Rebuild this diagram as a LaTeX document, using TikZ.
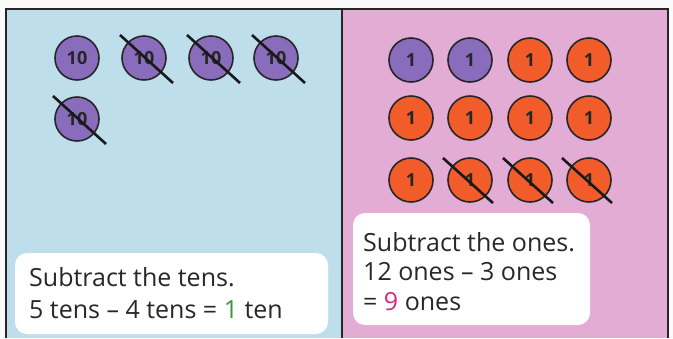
\documentclass[tikz,border=0pt]{standalone}
\usepackage{fontspec}
\setmainfont{Open Sans}
\definecolor{bluebg}{RGB}{190,222,236}
\definecolor{pinkbg}{RGB}{226,172,212}
\definecolor{purp}{RGB}{138,108,188}
\definecolor{oran}{RGB}{242,92,42}
\definecolor{txt}{RGB}{40,40,40}
\definecolor{grn}{RGB}{60,150,60}
\definecolor{mag}{RGB}{215,40,120}
\begin{document}
\begin{tikzpicture}[x=1pt,y=-1pt,
  counter/.style={circle,draw=black!85,line width=1.6pt,minimum size=44pt,inner sep=0pt,font=\fontsize{18}{18}\selectfont\bfseries,text=black!85},
  ten/.style={counter,fill=purp},
  onep/.style={counter,fill=purp},
  oneo/.style={counter,fill=oran},
  strike/.style={line width=2.6pt,black!90},
  textbox/.style={fill=white,rounded corners=12pt,draw=none},
  label/.style={anchor=west,font=\fontsize{25}{28}\selectfont,text=txt,inner sep=0pt}]
\useasboundingbox (0,0) rectangle (673,338);
\fill[white!96!gray] (0,0) rectangle (673,338);
\fill[bluebg] (6,9) rectangle (342,338);
\fill[pinkbg] (342,9) rectangle (668,338);
\draw[line width=1.6pt,black!85] (6,338) -- (6,9) -- (668,9) -- (668,338);
\draw[line width=1.6pt,black!85] (342,9) -- (342,338);
% tens
\node[ten] (t1) at (77,58) {10};
\node[ten] (t2) at (144,58) {10};
\node[ten] (t3) at (211,58) {10};
\node[ten] (t4) at (276,58) {10};
\node[ten] (t5) at (77,119) {10};
\foreach \n in {t2,t3,t4,t5}{
  \draw[strike] ([shift={(-24,-23)}]\n.center) -- ([shift={(29,25)}]\n.center);
}
% ones
\node[onep] (o1) at (411,60) {1};
\node[onep] (o2) at (470,60) {1};
\node[oneo] (o3) at (530,60) {1};
\node[oneo] (o4) at (589,60) {1};
\node[oneo] (o5) at (411,118) {1};
\node[oneo] (o6) at (470,118) {1};
\node[oneo] (o7) at (530,118) {1};
\node[oneo] (o8) at (589,118) {1};
\node[oneo] (o9) at (411,180) {1};
\node[oneo] (o10) at (470,180) {1};
\node[oneo] (o11) at (530,180) {1};
\node[oneo] (o12) at (589,180) {1};
\foreach \n in {o10,o11,o12}{
  \draw[strike] ([shift={(-27,-22)}]\n.center) -- ([shift={(23,23)}]\n.center);
}
% text boxes
\fill[textbox] (15,253) rectangle (328,334);
\node[label] (l1) at (29,277) {Subtract the tens.};
\node[label] (l2) at (29,310) {5 tens -- 4 tens = \textcolor{grn}{1} ten};
\fill[textbox] (353,213) rectangle (590,325);
\node[label] (r1) at (363,242) {Subtract the ones.};
\node[label] (r2) at (363,272) {12 ones -- 3 ones};
\node[label] (r3) at (363,302) {= \textcolor{mag}{9} ones};
\end{tikzpicture}
\end{document}
